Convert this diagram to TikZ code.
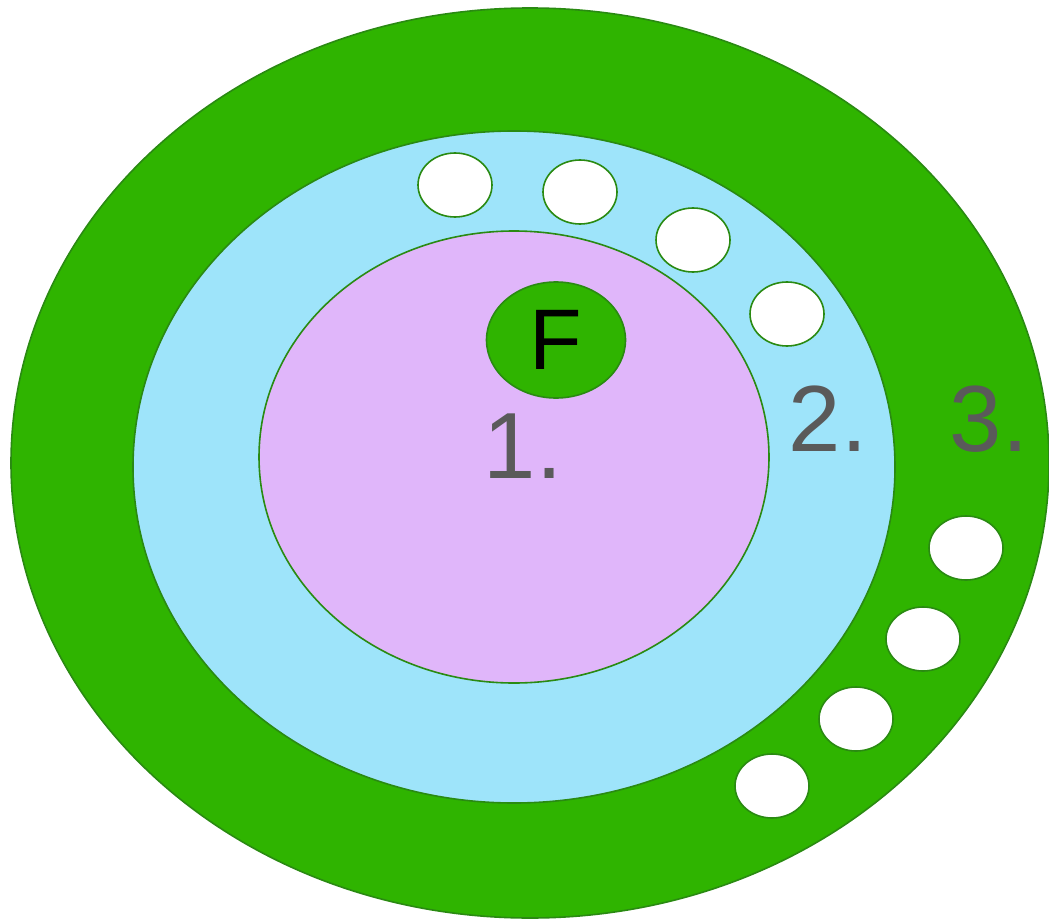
\documentclass[tikz,border=0pt]{standalone}
\usepackage{fontspec}
\setmainfont{Liberation Sans}
\usetikzlibrary{shapes.geometric}
\definecolor{leafgreen}{HTML}{2FB400}
\definecolor{rimgreen}{HTML}{2A8A12}
\definecolor{skyblue}{HTML}{9EE4FA}
\definecolor{lilac}{HTML}{E0B6FA}
\definecolor{labelgray}{HTML}{5A5A5A}
\tikzset{
  ring/.style={ellipse, draw=rimgreen, line width=1.6pt, inner sep=0pt},
  hole/.style={ring, fill=white, minimum width=74pt, minimum height=64pt},
  biglabel/.style={text=labelgray, font=\fontsize{94}{94}\selectfont, inner sep=0pt}
}
\begin{document}
\begin{tikzpicture}[x=1pt, y=-1pt]
  \useasboundingbox (0,0) rectangle (1049,923);
  \clip (0,0) rectangle (1049,923);
  % concentric zones
  \node[ring, fill=leafgreen, minimum width=1038pt, minimum height=910pt] (outer) at (530,463) {};
  \node[ring, fill=skyblue, minimum width=762pt, minimum height=672pt] (middle) at (514,467) {};
  \node[ring, fill=lilac, minimum width=510pt, minimum height=452pt] (inner) at (514,457) {};
  % nucleus
  \node[ring, fill=leafgreen, minimum width=139pt, minimum height=116pt,
        font=\fontsize{86}{86}\selectfont] (nucleus) at (556,340) {F};
  % openings along the middle zone
  \node[hole] (a1) at (455,185) {};
  \node[hole] (a2) at (580,192) {};
  \node[hole] (a3) at (693,240) {};
  \node[hole] (a4) at (787,314) {};
  % openings along the outer zone
  \node[hole] (b1) at (966,548) {};
  \node[hole] (b2) at (923,639) {};
  \node[hole] (b3) at (856,719) {};
  \node[hole] (b4) at (772,786) {};
  % zone labels
  \node[biglabel] (l1) at (523,446) {1.};
  \node[biglabel] (l2) at (828,419) {2.};
  \node[biglabel] (l3) at (989,419) {3.};
\end{tikzpicture}
\end{document}
